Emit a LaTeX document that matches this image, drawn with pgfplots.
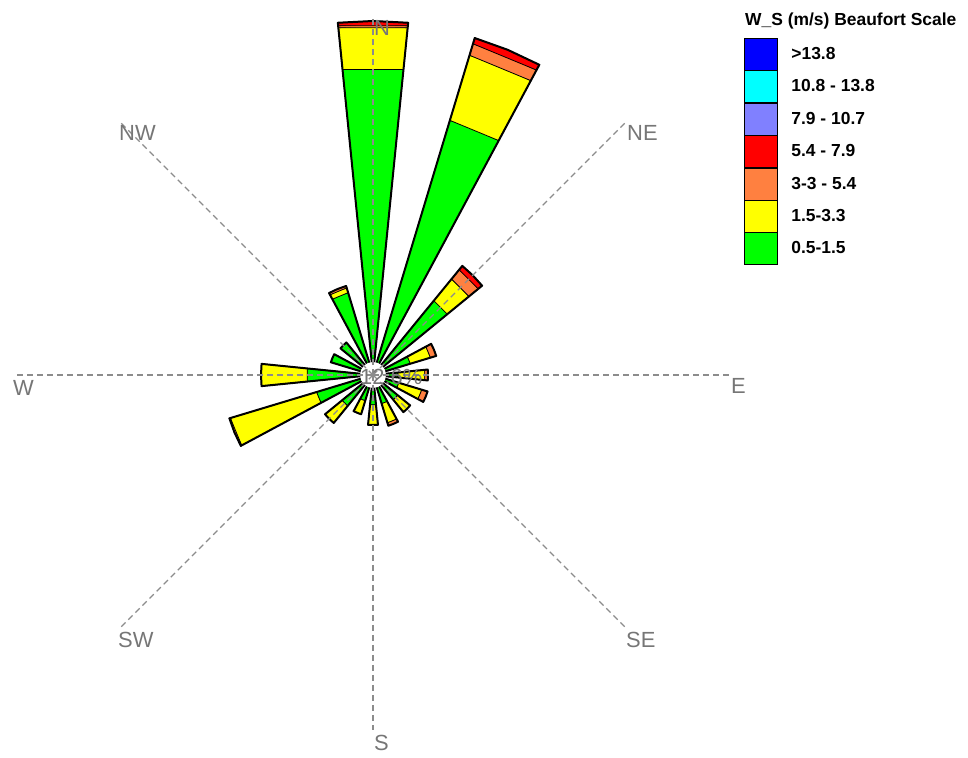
\documentclass[border=0pt]{standalone}
\usepackage{fontspec}
\setmainfont{Liberation Sans}
\usepackage{pgfplots}
\usepgfplotslibrary{polar}
\pgfplotsset{compat=1.18}
\definecolor{wsgreen}{HTML}{00FF00}
\definecolor{wsyellow}{HTML}{FFFF00}
\definecolor{wsorange}{HTML}{FF8040}
\definecolor{wsred}{HTML}{FF0000}
\definecolor{wspurple}{HTML}{8080FF}
\definecolor{wscyan}{HTML}{00FFFF}
\definecolor{wsblue}{HTML}{0000FF}
\definecolor{lblgray}{HTML}{767676}
\definecolor{dashgray}{HTML}{8C8C8C}
\newcommand\hw{5.7}
% one stacked segment: direction (deg from N, clockwise), inner radius, outer radius, colour
\newcommand\seg[4]{%
  \pgfmathsetmacro\ta{90-(#1)-\hw}%
  \pgfmathsetmacro\tb{90-(#1)}%
  \pgfmathsetmacro\tc{90-(#1)+\hw}%
  \addplot[segstyle, fill=#4] coordinates {(\ta,#2) (\ta,#3) (\tb,#3) (\tc,#3) (\tc,#2)} --cycle;}
% outline of a whole bar: direction, total radius
\newcommand\outl[2]{%
  \pgfmathsetmacro\ta{90-(#1)-\hw}%
  \pgfmathsetmacro\tb{90-(#1)}%
  \pgfmathsetmacro\tc{90-(#1)+\hw}%
  \addplot[outstyle] coordinates {(\ta,12) (\ta,#2) (\tb,#2) (\tc,#2) (\tc,12)} --cycle;}
\begin{document}
\begin{tikzpicture}
\begin{axis}[
  x=1bp, y=1bp,
  xmin=-373, xmax=595, ymin=-383, ymax=375,
  hide axis, clip=false,
  segstyle/.style={draw=black, line width=0.8bp, forget plot, data cs=polar},
  outstyle/.style={draw=black, line width=2bp, fill=none, forget plot, data cs=polar, line join=round},
  dashstyle/.style={dashgray, line width=1.2bp, dash pattern=on 6bp off 4bp, forget plot, data cs=polar},
  legend image code/.code={\fill[#1] (0bp,-16bp) rectangle (33bp,16bp);},
  legend cell align=left,
  legend style={at={(0.7686,0.9499)}, anchor=north west, draw=none, fill=none,
    inner sep=0pt, outer sep=0pt, row sep=0pt,
    font=\bfseries\fontsize{17.5}{17.5}\selectfont,
    /tikz/every odd column/.append style={column sep=14bp},
    nodes={inner sep=0pt}},
]
\addlegendimage{fill=wsblue}\addlegendentry{>13.8}
\addlegendimage{fill=wscyan}\addlegendentry{10.8 - 13.8}
\addlegendimage{fill=wspurple}\addlegendentry{7.9 - 10.7}
\addlegendimage{fill=wsred}\addlegendentry{5.4 - 7.9}
\addlegendimage{fill=wsorange}\addlegendentry{3-3 - 5.4}
\addlegendimage{fill=wsyellow}\addlegendentry{1.5-3.3}
\addlegendimage{fill=wsgreen}\addlegendentry{0.5-1.5}

% N
\seg{0}{12}{307}{wsgreen}\seg{0}{307}{349}{wsyellow}\seg{0}{349}{351}{wsorange}\seg{0}{351}{354}{wsred}\outl{0}{354}
% NNE
\seg{22.5}{12}{266}{wsgreen}\seg{22.5}{266}{334}{wsyellow}\seg{22.5}{334}{346}{wsorange}\seg{22.5}{346}{352}{wsred}\outl{22.5}{352}
% NE
\seg{45}{12}{96}{wsgreen}\seg{45}{96}{124}{wsyellow}\seg{45}{124}{136}{wsorange}\seg{45}{136}{141}{wsred}\outl{45}{141}
% ENE
\seg{67.5}{12}{39}{wsgreen}\seg{67.5}{39}{60}{wsyellow}\seg{67.5}{60}{66}{wsorange}\outl{67.5}{66}
% E
\seg{90}{12}{25}{wsgreen}\seg{90}{25}{52}{wsyellow}\seg{90}{52}{55}{wsorange}\outl{90}{55}
% ESE
\seg{112.5}{12}{27}{wsgreen}\seg{112.5}{27}{51}{wsyellow}\seg{112.5}{51}{57}{wsorange}\outl{112.5}{57}
% SE
\seg{135}{12}{32}{wsgreen}\seg{135}{32}{48}{wsyellow}\outl{135}{48}
% SSE
\seg{157.5}{12}{30}{wsgreen}\seg{157.5}{30}{50}{wsyellow}\seg{157.5}{50}{53}{wsorange}\outl{157.5}{53}
% S
\seg{180}{12}{30}{wsgreen}\seg{180}{30}{50}{wsyellow}\outl{180}{50}
% SSW
\seg{202.5}{12}{27}{wsgreen}\seg{202.5}{27}{41}{wsyellow}\outl{202.5}{41}
% SW
\seg{225}{12}{40}{wsgreen}\seg{225}{40}{62}{wsyellow}\outl{225}{62}
% WSW
\seg{247.5}{12}{59}{wsgreen}\seg{247.5}{59}{149}{wsyellow}\seg{247.5}{149}{150}{wsorange}\outl{247.5}{150}
% W
\seg{270}{12}{66}{wsgreen}\seg{270}{66}{112}{wsyellow}\outl{270}{112}
% WNW
\seg{292.5}{12}{44}{wsgreen}\outl{292.5}{44}
% NW
\seg{315}{12}{42}{wsgreen}\outl{315}{42}
% NNW
\seg{337.5}{12}{86}{wsgreen}\seg{337.5}{86}{91}{wsyellow}\seg{337.5}{91}{93}{wsorange}\outl{337.5}{93}

\fill[white] (axis cs:0,0) circle[radius=13bp];

% dashed compass lines
\addplot[dashstyle] coordinates {(0,0) (90,358)};
\addplot[dashstyle] coordinates {(0,0) (45,358)};
\addplot[dashstyle] coordinates {(0,0) (0,358)};
\addplot[dashstyle] coordinates {(0,0) (-45,358)};
\addplot[dashstyle] coordinates {(0,0) (-90,355)};
\addplot[dashstyle] coordinates {(0,0) (-135,358)};
\addplot[dashstyle] coordinates {(0,0) (180,360)};
\addplot[dashstyle] coordinates {(0,0) (135,358)};

\begin{scope}[every node/.style={anchor=north west, inner sep=0pt, text=lblgray, font=\fontsize{22}{22}\selectfont}]
\node at (axis cs:1,355) {N};
\node at (axis cs:254,250) {NE};
\node at (axis cs:358,-3) {E};
\node at (axis cs:253,-257) {SE};
\node at (axis cs:1,-360) {S};
\node at (axis cs:-255,-257) {SW};
\node at (axis cs:-360,-5) {W};
\node at (axis cs:-254,250) {NW};
\end{scope}
\node[anchor=west, inner sep=0pt, text=lblgray, font=\fontsize{22}{22}\selectfont] at (axis cs:-13,-2) {12.6\%};
\node[anchor=north west, inner sep=0pt, font=\bfseries\fontsize{17.5}{17.5}\selectfont] at (axis cs:372,362) {W\_S (m/s) Beaufort Scale};
\end{axis}
\pgfresetboundingbox
\path[use as bounding box] (current axis.south west) rectangle (current axis.north east);
\end{tikzpicture}
\end{document}
